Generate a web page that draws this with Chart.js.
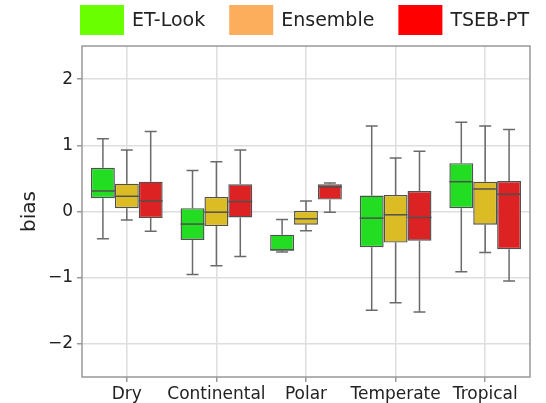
<!DOCTYPE html>
<html>
<head>
<meta charset="utf-8">
<script src="https://cdn.jsdelivr.net/npm/chart.js@4.4.1/dist/chart.umd.min.js"></script>
<style>
  html, body { margin: 0; padding: 0; background: #fff; }
  canvas { display: block; }
</style>
</head>
<body>
<canvas id="chart" width="546" height="403"></canvas>
<script>
// climate zones on the x axis
const categories = ['Dry', 'Continental', 'Polar', 'Temperate', 'Tropical'];
const seriesNames = ['ET-Look', 'Ensemble', 'TSEB-PT'];
const yTicks = [-2, -1, 0, 1, 2];

// box stats: whisker low, q1, median, q3, whisker high
const etLookMin = [-0.41, -0.95, -0.61, -1.49, -0.91];
const etLookQ1  = [0.20, -0.43, -0.59, -0.54, 0.05];
const etLookMed = [0.31, -0.19, -0.58, -0.10, 0.45];
const etLookQ3  = [0.66, 0.05, -0.35, 0.24, 0.73];
const etLookMax = [1.10, 0.62, -0.12, 1.29, 1.35];

const ensembleMin = [-0.13, -0.82, -0.29, -1.38, -0.62];
const ensembleQ1  = [0.05, -0.22, -0.20, -0.47, -0.20];
const ensembleMed = [0.23, -0.01, -0.11, -0.05, 0.34];
const ensembleQ3  = [0.42, 0.22, 0.01, 0.25, 0.45];
const ensembleMax = [0.93, 0.75, 0.16, 0.81, 1.29];

const tsebMin = [-0.30, -0.68, -0.01, -1.52, -1.05];
const tsebQ1  = [-0.10, -0.09, 0.18, -0.44, -0.57];
const tsebMed = [0.16, 0.15, 0.37, -0.09, 0.26];
const tsebQ3  = [0.45, 0.41, 0.41, 0.31, 0.46];
const tsebMax = [1.21, 0.93, 0.43, 0.91, 1.24];

const boxColors = ['#22dd22', '#dcbc24', '#dc2222'];
const legendColors = ['#6aff00', '#fcae5c', '#ff0000'];
const FONT = "'DejaVu Sans', sans-serif";

const stats = [
  { min: etLookMin, q1: etLookQ1, med: etLookMed, q3: etLookQ3, max: etLookMax },
  { min: ensembleMin, q1: ensembleQ1, med: ensembleMed, q3: ensembleQ3, max: ensembleMax },
  { min: tsebMin, q1: tsebQ1, med: tsebMed, q3: tsebQ3, max: tsebMax }
];

const datasets = seriesNames.map((name, i) => ({
  label: name,
  data: stats[i].q1.map((v, j) => [v, stats[i].q3[j]]),
  backgroundColor: boxColors[i],
  borderColor: '#505050',
  borderWidth: 1.4,
  borderSkipped: false,
  categoryPercentage: 0.8,
  barPercentage: 1.0
}));

// whiskers behind the boxes, medians on top
const boxPlugin = {
  id: 'boxWhiskers',
  beforeDatasetsDraw(chart) {
    const ctx = chart.ctx;
    const y = chart.scales.y;
    ctx.save();
    ctx.strokeStyle = '#6a6a6a';
    ctx.lineWidth = 1.5;
    stats.forEach((s, i) => {
      chart.getDatasetMeta(i).data.forEach((bar, j) => {
        const x = bar.x;
        const cap = bar.width / 4;
        const yMin = y.getPixelForValue(s.min[j]);
        const yMax = y.getPixelForValue(s.max[j]);
        const yQ1 = y.getPixelForValue(s.q1[j]);
        const yQ3 = y.getPixelForValue(s.q3[j]);
        ctx.beginPath();
        ctx.moveTo(x, yQ3); ctx.lineTo(x, yMax);
        ctx.moveTo(x - cap, yMax); ctx.lineTo(x + cap, yMax);
        ctx.moveTo(x, yQ1); ctx.lineTo(x, yMin);
        ctx.moveTo(x - cap, yMin); ctx.lineTo(x + cap, yMin);
        ctx.stroke();
      });
    });
    ctx.restore();
  },
  afterDatasetsDraw(chart) {
    const ctx = chart.ctx;
    const y = chart.scales.y;
    ctx.save();
    ctx.strokeStyle = '#505050';
    ctx.lineWidth = 1.5;
    stats.forEach((s, i) => {
      chart.getDatasetMeta(i).data.forEach((bar, j) => {
        const ym = y.getPixelForValue(s.med[j]);
        ctx.beginPath();
        ctx.moveTo(bar.x - bar.width / 2, ym);
        ctx.lineTo(bar.x + bar.width / 2, ym);
        ctx.stroke();
      });
    });
    ctx.restore();
  },
  afterDraw(chart) {
    const ctx = chart.ctx;
    const a = chart.chartArea;
    ctx.save();
    // axes frame
    ctx.strokeStyle = '#999';
    ctx.lineWidth = 1.5;
    ctx.strokeRect(a.left, a.top, a.right - a.left, a.bottom - a.top);
    // legend above the plot
    ctx.font = '19px ' + FONT;
    ctx.textBaseline = 'middle';
    ctx.textAlign = 'left';
    let x = 80;
    seriesNames.forEach((name, i) => {
      ctx.fillStyle = legendColors[i];
      ctx.fillRect(x, 5, 44, 30);
      ctx.fillStyle = '#222';
      ctx.fillText(name, x + 52, 21);
      x += 52 + ctx.measureText(name).width + 24;
    });
    ctx.restore();
  }
};

new Chart(document.getElementById('chart'), {
  type: 'bar',
  data: { labels: categories, datasets },
  options: {
    responsive: false,
    animation: false,
    devicePixelRatio: 1,
    layout: { padding: { top: 46, right: 16, left: 0, bottom: 0 } },
    plugins: { legend: { display: false }, tooltip: { enabled: false } },
    scales: {
      x: {
        offset: true,
        grid: { offset: false, color: '#dedede', lineWidth: 1.5, tickColor: '#999', tickLength: 5 },
        border: { display: false },
        ticks: { color: '#222', font: { family: FONT, size: 17 }, padding: 2, maxRotation: 0, autoSkip: false },
        afterFit(s) { s.height = 26; }
      },
      y: {
        min: -2.5,
        max: 2.5,
        grid: { color: '#dedede', lineWidth: 1.5, tickColor: '#999', tickLength: 5 },
        border: { display: false },
        afterBuildTicks(s) { s.ticks = yTicks.map(v => ({ value: v })); },
        ticks: {
          color: '#222',
          font: { family: FONT, size: 17 },
          padding: 4,
          callback: v => String(v).replace('-', '\u2212')
        },
        title: {
          display: true,
          text: 'bias',
          color: '#222',
          font: { family: FONT, size: 20 },
          padding: { top: 18, bottom: 0 }
        },
        afterFit(s) { s.width = 82; }
      }
    }
  },
  plugins: [boxPlugin]
});
</script>
</body>
</html>
